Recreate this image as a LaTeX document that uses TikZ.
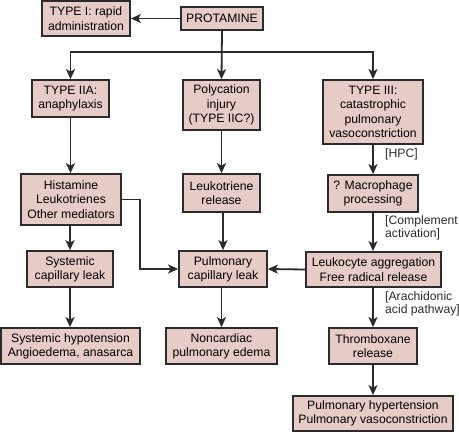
\documentclass[tikz,border=0pt]{standalone}
\usepackage{fontspec}
\setmainfont{Liberation Sans}
\usetikzlibrary{arrows.meta}
\definecolor{boxfill}{HTML}{E6CBC6}
\definecolor{ink}{HTML}{2B2B2B}
\begin{document}
\begin{tikzpicture}[x=1pt,y=-1pt,
  box/.style={draw=ink,fill=boxfill,line width=1.7pt,align=center,inner sep=0pt,
    font=\fontsize{12.2}{14.3}\selectfont},
  conn/.style={draw=ink,line width=1.8pt,-{Stealth[length=10pt,width=9pt,inset=2.5pt]}},
  lbl/.style={anchor=west,align=left,inner sep=0pt,text=ink,font=\fontsize{12.2}{13.5}\selectfont}]
\useasboundingbox (0,0) rectangle (459,432);
\node[box,minimum width=88pt,minimum height=35pt] (t1) at (86,18.5) {TYPE I: rapid\\administration};
\node[box,minimum width=82pt,minimum height=23pt] (prot) at (222,18.5) {PROTAMINE};
\node[box,minimum width=77pt,minimum height=37pt] (t2a) at (70.5,98.5) {TYPE IIA:\\anaphylaxis};
\node[box,minimum width=77pt,minimum height=50pt] (poly) at (221.5,105) {Polycation\\injury\\(TYPE IIC?)};
\node[box,minimum width=100pt,minimum height=64pt] (t3) at (373,112) {TYPE III:\\catastrophic\\pulmonary\\vasoconstriction};
\node[box,minimum width=100pt,minimum height=51pt] (hist) at (71,199.5) {Histamine\\Leukotrienes\\Other mediators};
\node[box,minimum width=77pt,minimum height=38pt] (leuk) at (221.5,193) {Leukotriene\\release};
\node[box,minimum width=90pt,minimum height=37pt] (macro) at (373,193.5) {? Macrophage\\processing};
\node[box,minimum width=86pt,minimum height=36pt] (syscap) at (70,269) {Systemic\\capillary leak};
\node[box,minimum width=88pt,minimum height=36pt] (pulcap) at (223,269) {Pulmonary\\capillary leak};
\node[box,minimum width=135pt,minimum height=35pt] (leuko) at (373.5,269.5) {Leukocyte aggregation\\Free radical release};
\node[box,minimum width=139pt,minimum height=36pt] (syshyp) at (70.5,346) {Systemic hypotension\\Angioedema, anasarca};
\node[box,minimum width=111pt,minimum height=36pt] (noncard) at (221.5,346) {Noncardiac\\pulmonary edema};
\node[box,minimum width=88pt,minimum height=36pt] (thromb) at (373,346) {Thromboxane\\release};
\node[box,minimum width=160pt,minimum height=35pt] (pulhyp) at (373,413.5) {Pulmonary hypertension\\Pulmonary vasoconstriction};
\coordinate (br) at (222,52);
\coordinate (hx) at (140,199.5);
\draw[conn] (prot.west) -- (t1.east);
\draw[conn] (prot.south) -- (poly.north);
\draw[conn] (br) -| (t2a.north);
\draw[conn] (br) -| (t3.north);
\draw[conn] (t2a.south) -- (t2a.south |- hist.north);
\draw[conn] (poly.south) -- (poly.south |- leuk.north);
\draw[conn] (t3.south) -- (macro.north);
\draw[conn] (hist.east) -- (hx) |- (pulcap.west);
\draw[conn] (hist.south -| syscap.north) -- (syscap.north);
\draw[conn] (leuk.south -| pulcap.north) -- (pulcap.north);
\draw[conn] (macro.south) -- (macro.south |- leuko.north);
\draw[conn] (leuko.west) -- (pulcap.east);
\draw[conn] (syscap.south) -- (syscap.south |- syshyp.north);
\draw[conn] (pulcap.south -| noncard.north) -- (noncard.north);
\draw[conn] (leuko.south -| thromb.north) -- (thromb.north);
\draw[conn] (thromb.south) -- (pulhyp.north);
\node[lbl] (hpc) at (385,154) {[HPC]};
\node[lbl] (compl) at (385,228) {[Complement\\activation]};
\node[lbl] (arach) at (385,304) {[Arachidonic\\acid pathway]};
\end{tikzpicture}
\end{document}
